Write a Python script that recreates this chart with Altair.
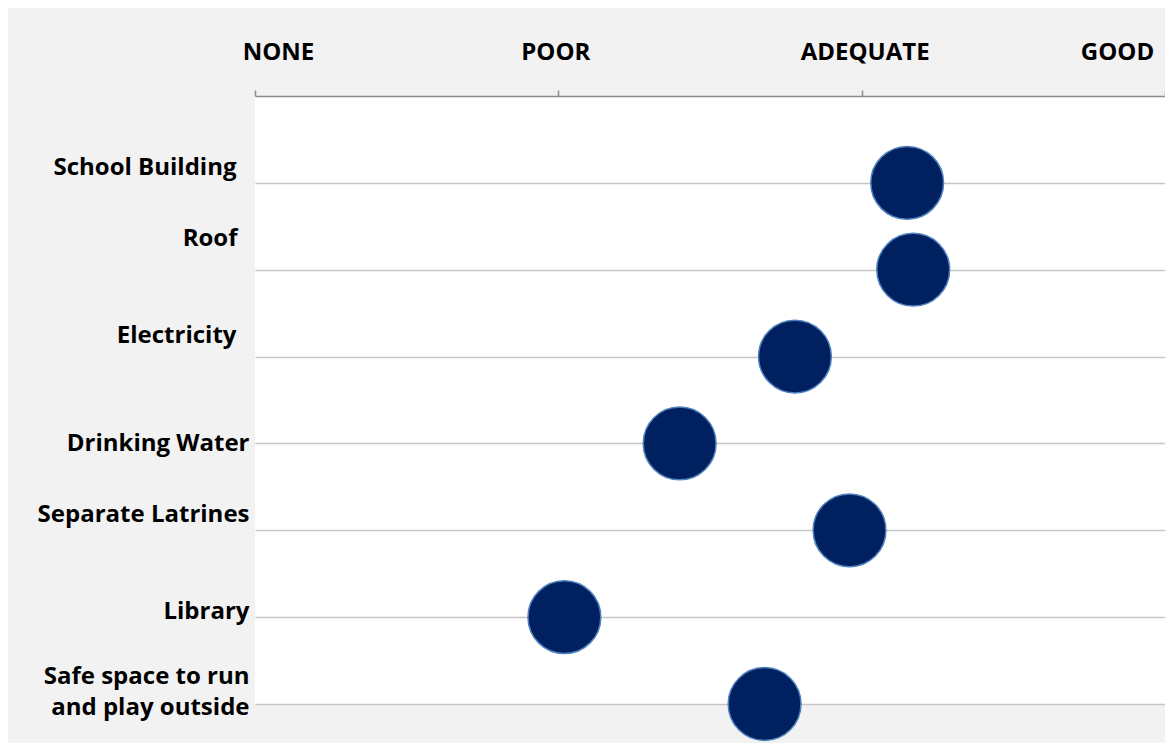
import json
import altair as alt
import pandas as pd

categories = [
    "School Building",
    "Roof",
    "Electricity",
    "Drinking Water",
    "Separate Latrines",
    "Library",
    "Safe space to run and play outside",
]
label_lines = [
    ["School Building"],
    ["Roof"],
    ["Electricity"],
    ["Drinking Water"],
    ["Separate Latrines"],
    ["Library"],
    ["Safe space to run", "and play outside"],
]
scores = [2.15, 2.17, 1.78, 1.40, 1.96, 1.02, 1.68]
ratings = ["NONE", "POOR", "ADEQUATE", "GOOD"]

# per-label nudges (style), mimicking the original label placement
y_label_nudge = [-15, -31, -21, 0, -16, -6, -28]
y_label_pad = [19, 18, 19, 6, 6, 6, 6]
x_label_nudge = [23, -3, 3, -48]

df = pd.DataFrame({
    "category": categories,
    "score": scores,
    "row": list(range(1, len(categories) + 1)),
})

FONT = "Open Sans"
FS = 24

x_axis = alt.Axis(
    orient="top",
    values=list(range(len(ratings))),
    labelExpr=f"{json.dumps(ratings)}[datum.value]",
    labelFont=FONT,
    labelFontSize=FS,
    labelFontWeight="bold",
    labelColor="#000000",
    labelPadding=26,
    labelFlush=False,
    labelOffset={"expr": f"{json.dumps(x_label_nudge)}[datum.value]"},
    domainColor="#8c8c8c",
    domainWidth=1.5,
    tickColor="#8c8c8c",
    tickWidth=1.5,
    tickSize=6,
    grid=False,
    title=None,
)

y_axis = alt.Axis(
    orient="left",
    values=list(range(1, len(categories) + 1)),
    labelExpr=f"{json.dumps(label_lines)}[datum.value-1]",
    labelFont=FONT,
    labelFontSize=FS,
    labelFontWeight="bold",
    labelColor="#000000",
    labelPadding={"expr": f"{json.dumps(y_label_pad)}[datum.value-1]"},
    labelLimit=400,
    labelLineHeight=31,
    labelBaseline="middle",
    labelOffset={"expr": f"{json.dumps(y_label_nudge)}[datum.value-1]"},
    domain=False,
    ticks=False,
    grid=True,
    gridColor="#c6c6c6",
    gridWidth=1.5,
    title=None,
)

chart = (
    alt.Chart(df)
    .mark_circle(size=5300, opacity=1, color="#002060", stroke="#4f81bd", strokeWidth=1.5)
    .encode(
        x=alt.X("score:Q", scale=alt.Scale(domain=[0, len(ratings) - 1], nice=False, zero=False), axis=x_axis),
        y=alt.Y("row:Q", scale=alt.Scale(domain=[0, len(categories)], reverse=True, nice=False), axis=y_axis),
        tooltip=["category", "score"],
    )
    .properties(
        width=910,
        height=608,
        background="#f2f2f2",
        padding={"left": 247, "top": 88, "right": 0, "bottom": 39},
        autosize=alt.AutoSizeParams(type="none"),
    )
    .configure_view(fill="white", strokeWidth=0)
)

chart.save("out.html", embed_options={"renderer": "svg", "actions": False})
